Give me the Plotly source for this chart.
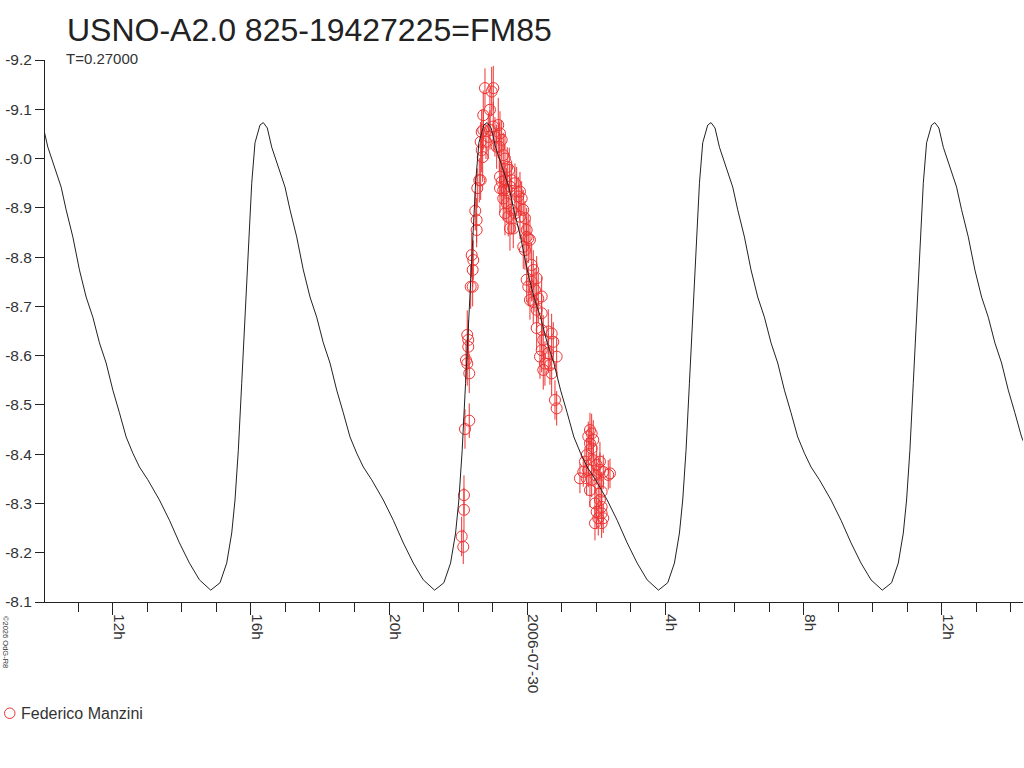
import pandas as pd
import plotly.graph_objects as go

# Observations (hours from 2006-07-30 00:00, magnitude, error)
obs_hours = [
    -1.899, -1.852, -1.832, -1.832, -1.803, -1.679, -1.737, -1.708, -1.708, -1.774,
    -1.737, -1.679, -1.609, -1.563, -1.580, -1.638, -1.580, -1.505, -1.465, -1.465,
    -1.447, -1.389, -1.349, -1.291, -1.320, -1.349, -1.320, -1.274, -1.274, -1.080,
    -1.224, -1.030, -0.984, -1.080, -1.129, -1.195, -0.984, -0.839, -0.790, -0.935,
    -0.886, -0.810, -0.741, -0.695, -0.645, -0.579, -0.521, -0.790, -0.741, -0.790,
    -0.695, -0.596, -0.645, -0.452, -0.501, -0.356, -0.307, -0.211, -0.695, -0.596,
    -0.162, -0.260, -0.645, -0.550, -0.452, -0.356, -0.211, -0.116, -0.067, -0.501,
    -0.405, -0.017, -0.017, 0.029, 0.078, -0.116, -0.067, 0.127, 0.174, -0.017,
    0.127, 0.272, 0.029, 0.223, 0.417, 0.318, 0.078, 0.174, 0.417, 0.272,
    0.272, 0.417, 0.608, 0.706, 0.463, 0.753, 0.417, 0.608, 0.368, 0.851,
    0.512, 0.657, 0.706, 0.463, 0.802, 0.851, 1.525, 1.815, 1.864, 1.766,
    1.815, 1.910, 1.864, 1.719, 2.104, 1.670, 1.910, 2.009, 2.104, 2.344,
    1.766, 1.621, 1.719, 1.960, 2.200, 2.394, 1.864, 2.055, 1.815, 2.153,
    2.104, 1.960, 2.153, 2.009, 2.153, 2.055, 2.200, 1.960, 2.153,
]
obs_mag = [
    -8.233, -8.212, -8.317, -8.287, -8.451, -8.468, -8.642, -8.632, -8.618, -8.591,
    -8.584, -8.564, -8.804, -8.794, -8.774, -8.740, -8.740, -8.894, -8.875, -8.855,
    -8.940, -8.956, -8.956, -9.003, -9.017, -9.034, -9.054, -9.058, -9.088, -9.099,
    -9.143, -9.136, -9.143, -9.058, -9.044, -9.034, -9.065, -9.068, -9.051, -9.044,
    -9.024, -9.024, -9.038, -9.007, -9.000, -8.983, -8.977, -8.963, -8.953, -8.940,
    -8.936, -8.936, -8.956, -8.956, -8.943, -8.950, -8.933, -8.933, -8.919, -8.909,
    -8.919, -8.923, -8.889, -8.882, -8.896, -8.889, -8.882, -8.896, -8.879, -8.858,
    -8.858, -8.855, -8.841, -8.838, -8.835, -8.821, -8.814, -8.784, -8.774, -8.754,
    -8.750, -8.757, -8.740, -8.733, -8.720, -8.716, -8.713, -8.709, -8.686, -8.693,
    -8.656, -8.652, -8.649, -8.645, -8.632, -8.628, -8.611, -8.605, -8.598, -8.598,
    -8.584, -8.581, -8.564, -8.571, -8.510, -8.493, -8.351, -8.449, -8.442, -8.436,
    -8.422, -8.429, -8.412, -8.398, -8.385, -8.385, -8.388, -8.378, -8.368, -8.358,
    -8.368, -8.364, -8.351, -8.358, -8.364, -8.361, -8.348, -8.341, -8.327, -8.324,
    -8.307, -8.300, -8.293, -8.283, -8.280, -8.270, -8.270, -8.260, -8.260,
]
obs_err = [
    0.040, 0.035, 0.040, 0.045, 0.040, 0.035, 0.050, 0.040, 0.045, 0.040,
    0.045, 0.040, 0.045, 0.040, 0.035, 0.045, 0.040, 0.040, 0.045, 0.035,
    0.040, 0.045, 0.040, 0.050, 0.045, 0.040, 0.045, 0.040, 0.050, 0.045,
    0.040, 0.050, 0.045, 0.040, 0.045, 0.035, 0.050, 0.055, 0.045, 0.040,
    0.045, 0.050, 0.040, 0.045, 0.050, 0.040, 0.045, 0.040, 0.045, 0.050,
    0.040, 0.045, 0.035, 0.040, 0.045, 0.040, 0.050, 0.040, 0.045, 0.040,
    0.035, 0.040, 0.045, 0.040, 0.050, 0.040, 0.045, 0.040, 0.035, 0.045,
    0.040, 0.045, 0.040, 0.050, 0.040, 0.045, 0.040, 0.045, 0.040, 0.045,
    0.040, 0.045, 0.040, 0.045, 0.040, 0.050, 0.040, 0.045, 0.040, 0.035,
    0.045, 0.040, 0.045, 0.040, 0.050, 0.040, 0.045, 0.040, 0.045, 0.040,
    0.045, 0.040, 0.045, 0.040, 0.040, 0.035, 0.030, 0.035, 0.040, 0.030,
    0.035, 0.040, 0.030, 0.035, 0.040, 0.030, 0.035, 0.040, 0.035, 0.030,
    0.035, 0.030, 0.035, 0.040, 0.035, 0.030, 0.035, 0.040, 0.035, 0.040,
    0.035, 0.030, 0.040, 0.035, 0.030, 0.035, 0.030, 0.035, 0.030,
]

# Model light curve (T = 0.27 d)
curve_hours = [
    -14.121, -14.005, -13.877, -13.686, -13.492, -13.348, -13.154, -12.963, -12.769, -12.575,
    -12.384, -12.190, -11.996, -11.805, -11.611, -11.417, -11.226, -10.983, -10.647, -10.358,
    -10.068, -9.779, -9.490,
    -9.163, -8.894, -8.700, -8.555, -8.460, -8.364, -8.266, -8.170, -8.075, -7.976,
    -7.881, -7.736, -7.641, -7.525, -7.397, -7.206, -7.012, -6.868, -6.674, -6.483,
    -6.289, -6.095, -5.904, -5.710, -5.516, -5.325, -5.131, -4.937, -4.746, -4.503,
    -4.167, -3.878, -3.588, -3.299, -3.010,
    -2.683, -2.414, -2.220, -2.075, -1.980, -1.884, -1.786, -1.690, -1.595, -1.496,
    -1.401, -1.256, -1.161, -1.045, -0.917, -0.726, -0.532, -0.388, -0.194, -0.003,
    0.191, 0.385, 0.576, 0.770, 0.964, 1.155, 1.349, 1.543, 1.734, 1.977,
    2.313, 2.602, 2.892, 3.181, 3.470,
    3.797, 4.066, 4.260, 4.405, 4.500, 4.596, 4.694, 4.790, 4.885, 4.984,
    5.079, 5.224, 5.319, 5.435, 5.563, 5.754, 5.948, 6.092, 6.286, 6.477,
    6.671, 6.865, 7.056, 7.250, 7.444, 7.635, 7.829, 8.023, 8.214, 8.457,
    8.793, 9.082, 9.372, 9.661, 9.950,
    10.277, 10.546, 10.740, 10.885, 10.980, 11.076, 11.174, 11.270, 11.365, 11.464,
    11.559, 11.704, 11.799, 11.915, 12.043, 12.234, 12.428, 12.572, 12.766, 12.957,
    13.151, 13.345, 13.536, 13.730, 13.924, 14.115, 14.309, 14.503,
]
curve_mag = [
    -9.073, -9.062, -9.023, -8.983, -8.942, -8.896, -8.841, -8.774, -8.719, -8.678,
    -8.626, -8.585, -8.530, -8.484, -8.435, -8.402, -8.374, -8.348, -8.307, -8.266,
    -8.220, -8.179, -8.145,
    -8.124, -8.139, -8.179, -8.240, -8.307, -8.408, -8.544, -8.678, -8.814, -8.950,
    -9.032, -9.068, -9.073, -9.062, -9.023, -8.983, -8.942, -8.896, -8.841, -8.774,
    -8.719, -8.678, -8.626, -8.585, -8.530, -8.484, -8.435, -8.402, -8.374, -8.348,
    -8.307, -8.266, -8.220, -8.179, -8.145,
    -8.124, -8.139, -8.179, -8.240, -8.307, -8.408, -8.544, -8.678, -8.814, -8.950,
    -9.032, -9.068, -9.073, -9.062, -9.023, -8.983, -8.942, -8.896, -8.841, -8.774,
    -8.719, -8.678, -8.626, -8.585, -8.530, -8.484, -8.435, -8.402, -8.374, -8.348,
    -8.307, -8.266, -8.220, -8.179, -8.145,
    -8.124, -8.139, -8.179, -8.240, -8.307, -8.408, -8.544, -8.678, -8.814, -8.950,
    -9.032, -9.068, -9.073, -9.062, -9.023, -8.983, -8.942, -8.896, -8.841, -8.774,
    -8.719, -8.678, -8.626, -8.585, -8.530, -8.484, -8.435, -8.402, -8.374, -8.348,
    -8.307, -8.266, -8.220, -8.179, -8.145,
    -8.124, -8.139, -8.179, -8.240, -8.307, -8.408, -8.544, -8.678, -8.814, -8.950,
    -9.032, -9.068, -9.073, -9.062, -9.023, -8.983, -8.942, -8.896, -8.841, -8.774,
    -8.719, -8.678, -8.626, -8.585, -8.530, -8.484, -8.435, -8.402,
]

# Axis ticks
x_tick_hours = [-12, -8, -4, 0, 4, 8, 12]
x_tick_text = ['12h', '16h', '20h', '2006-07-30', '4h', '8h', '12h']
y_ticks = [-9.2, -9.1, -9.0, -8.9, -8.8, -8.7, -8.6, -8.5, -8.4, -8.3, -8.2, -8.1]
x_range_hours = [-13.96, 14.35]

t0 = pd.Timestamp('2006-07-30 00:00:00')


def to_time(hours):
    return t0 + pd.to_timedelta(pd.Series(hours), unit='h')


red = '#ee3333'
dark = '#222222'
font = 'Liberation Sans, Arial, sans-serif'

# plot area in pixels (for placing the texts around it)
L, T, W, H = 45, 60, 978, 542

fig = go.Figure()

fig.add_trace(go.Scatter(
    x=to_time(obs_hours), y=obs_mag, mode='markers', name='Federico Manzini',
    marker=dict(symbol='circle-open', size=11, color=red, line=dict(width=1, color=red)),
    error_y=dict(type='data', array=obs_err, color=red, thickness=1, width=0),
    showlegend=False,
))
fig.add_trace(go.Scatter(
    x=to_time(curve_hours), y=curve_mag, mode='lines', showlegend=False,
    line=dict(color=dark, width=1), hoverinfo='skip',
))

xr = to_time(x_range_hours)
fig.update_xaxes(
    range=[xr[0], xr[1]],
    tickvals=to_time(x_tick_hours), ticktext=x_tick_text,
    tickangle=90, ticks='outside', ticklen=12, tickcolor=dark, tickwidth=1,
    ticklabelshift=6, ticklabelstandoff=-4,
    minor=dict(dtick=3600000, tick0='2006-07-30', ticks='outside', ticklen=9,
               tickcolor=dark, tickwidth=1),
    showline=True, linecolor=dark, linewidth=1, showgrid=False, zeroline=False,
    tickfont=dict(size=15.5, color='#333333', family=font),
)
fig.update_yaxes(
    range=[-8.1, -9.2],
    tickvals=y_ticks, ticktext=['%.1f' % v for v in y_ticks],
    ticks='outside', ticklen=9, tickcolor=dark, tickwidth=1,
    showline=True, linecolor=dark, linewidth=1, showgrid=False, zeroline=False,
    tickfont=dict(size=15.5, color='#333333', family=font),
)


def px(x):
    return (x - L) / W


def py(y):
    return 1 - (y - T) / H


fig.update_layout(
    width=1024, height=768,
    margin=dict(l=L, r=1024 - L - W, t=T, b=768 - T - H, autoexpand=False),
    plot_bgcolor='white', paper_bgcolor='white',
    font=dict(family=font, color='#333333'),
    showlegend=False,
    shapes=[
        # legend symbol
        dict(type='circle', xref='paper', yref='paper',
             x0=px(4.5), x1=px(15), y0=py(708), y1=py(718.5),
             line=dict(color=red, width=1)),
    ],
    annotations=[
        dict(text='USNO-A2.0 825-19427225=FM85', xref='paper', yref='paper',
             x=px(65), y=py(30), xanchor='left', yanchor='middle',
             showarrow=False, font=dict(size=32, color='#222222', family=font)),
        dict(text='T=0.27000', xref='paper', yref='paper',
             x=px(64), y=py(58), xanchor='left', yanchor='middle',
             showarrow=False, font=dict(size=15, color='#333333', family=font)),
        dict(text='©2026 OdG-R8', xref='paper', yref='paper',
             x=px(6), y=py(642), xanchor='center', yanchor='middle',
             textangle=90, showarrow=False, font=dict(size=7.5, color='#333333', family=font)),
        dict(text='Federico Manzini', xref='paper', yref='paper',
             x=px(19), y=py(713), xanchor='left', yanchor='middle',
             showarrow=False, font=dict(size=16, color='#333333', family=font)),
    ],
)

fig.write_html('out.html', config={'displayModeBar': False},
               post_script="document.body.style.margin='0px';")
